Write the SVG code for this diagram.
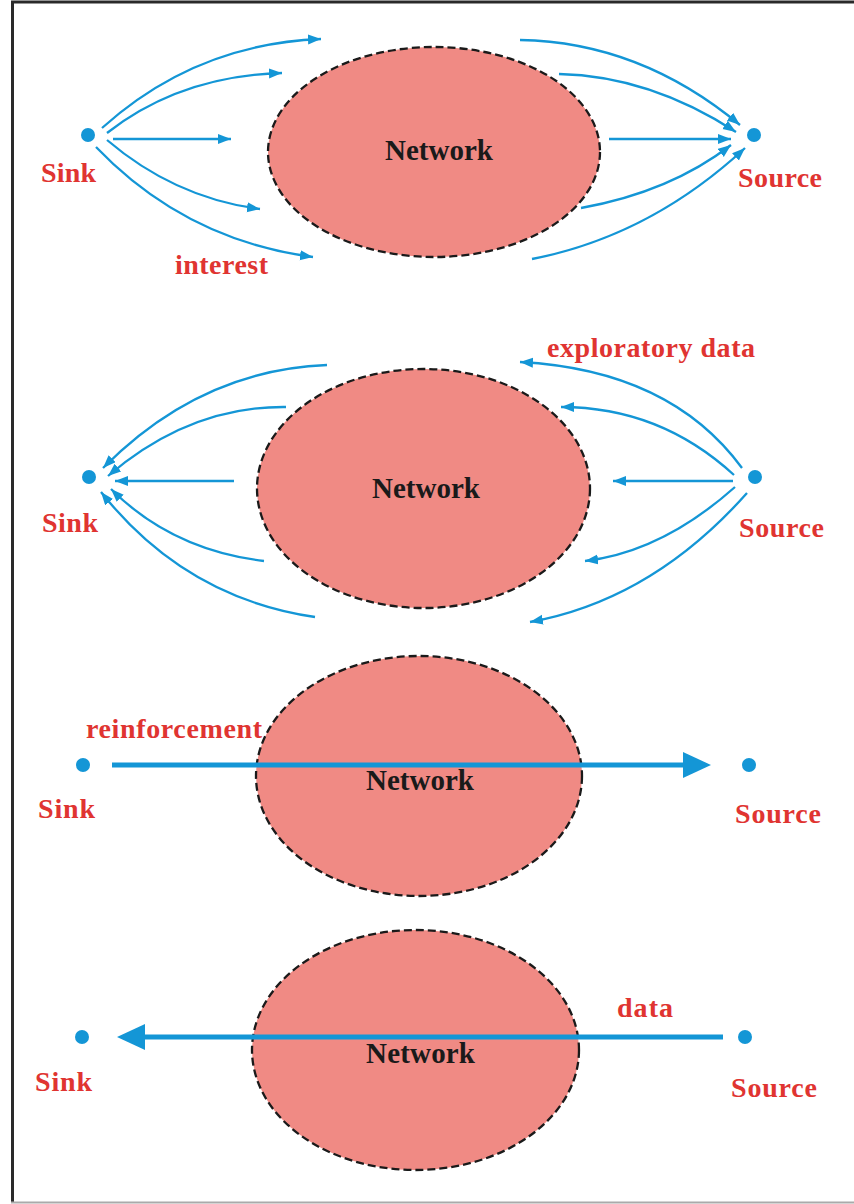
<svg xmlns="http://www.w3.org/2000/svg" width="854" height="1204" viewBox="0 0 854 1204">
<defs>
<style>
.net{fill:#f08a84;stroke:#1a1a1a;stroke-width:2.3;stroke-dasharray:8 4}
.lbl{font-family:"Liberation Serif","Times New Roman",serif;font-weight:bold;font-size:28px;fill:#e03431}
.nt{font-family:"Liberation Serif","Times New Roman",serif;font-weight:bold;font-size:29px;fill:#1a1a1a}
.dot{fill:#1496d6}
.thin{fill:none;stroke:#1496d6;stroke-width:2.3;marker-end:url(#ah)}
.thick{fill:none;stroke:#1496d6;stroke-width:5;marker-end:url(#ahb)}
</style>
<marker id="ah" markerUnits="userSpaceOnUse" markerWidth="14" markerHeight="12" refX="13" refY="5" orient="auto">
<path d="M0,0 L13,5 L0,10 z" fill="#1496d6"/>
</marker>
<marker id="ahb" markerUnits="userSpaceOnUse" markerWidth="30" markerHeight="28" refX="15" refY="13" orient="auto">
<path d="M0,0 L28,13 L0,26 z" fill="#1496d6"/>
</marker>
</defs>
<rect width="854" height="1204" fill="#ffffff"/>
<g id="frame" fill="none">
<line x1="11" y1="2" x2="854" y2="2" stroke="#2a2a2a" stroke-width="3"/>
<line x1="12.5" y1="1" x2="12.5" y2="1203" stroke="#2a2a2a" stroke-width="3"/>
<line x1="11" y1="1202.5" x2="854" y2="1202.5" stroke="#aaaaaa" stroke-width="2"/>
</g>

<g id="panel1-network"><ellipse class="net" cx="434" cy="152" rx="166" ry="105"/><text class="nt" x="385" y="160" textLength="108">Network</text></g>
<g id="panel1-sink"><circle class="dot" cx="88" cy="135" r="7"/><text class="lbl" x="41" y="182" textLength="55">Sink</text></g>
<g id="panel1-source"><circle class="dot" cx="754" cy="135" r="7"/><text class="lbl" x="738" y="187" textLength="84">Source</text></g>
<g id="panel1-label"><text class="lbl" x="175" y="274" textLength="93">interest</text></g>

<g id="panel2-network"><ellipse class="net" cx="423.5" cy="488.5" rx="166.5" ry="119.5"/><text class="nt" x="372" y="498" textLength="108">Network</text></g>
<g id="panel2-sink"><circle class="dot" cx="89" cy="477" r="7"/><text class="lbl" x="42" y="532" textLength="56">Sink</text></g>
<g id="panel2-source"><circle class="dot" cx="755" cy="477" r="7"/><text class="lbl" x="739" y="537" textLength="85">Source</text></g>
<g id="panel2-label"><text class="lbl" x="547" y="357" textLength="208">exploratory data</text></g>

<g id="panel3-network"><ellipse class="net" cx="419" cy="776" rx="163" ry="120"/><text class="nt" x="366" y="790" textLength="108">Network</text></g>
<g id="panel3-sink"><circle class="dot" cx="83" cy="765" r="7"/><text class="lbl" x="38" y="818" textLength="57">Sink</text></g>
<g id="panel3-source"><circle class="dot" cx="749" cy="765" r="7"/><text class="lbl" x="735" y="823" textLength="86">Source</text></g>
<g id="panel3-label"><text class="lbl" x="86" y="738" textLength="176">reinforcement</text></g>

<g id="panel4-network"><ellipse class="net" cx="415.5" cy="1050" rx="163.5" ry="120"/><text class="nt" x="366" y="1063" textLength="109">Network</text></g>
<g id="panel4-sink"><circle class="dot" cx="82" cy="1037" r="7"/><text class="lbl" x="35" y="1091" textLength="57">Sink</text></g>
<g id="panel4-source"><circle class="dot" cx="745" cy="1037" r="7"/><text class="lbl" x="731" y="1097" textLength="86">Source</text></g>
<g id="panel4-label"><text class="lbl" x="617" y="1017" textLength="56">data</text></g>

<g id="connectors">
<path class="thin" d="M102,128 Q195,44 321,39"/>
<path class="thin" d="M107,133 Q180,76 282,73"/>
<path class="thin" d="M113,139 L231,139"/>
<path class="thin" d="M107,140 Q175,198 260,209"/>
<path class="thin" d="M96,147 Q185,240 313,257"/>
<path class="thin" d="M520,40 Q640,42 740,125"/>
<path class="thin" d="M559,74 Q650,76 736,132"/>
<path class="thin" d="M609,139 L731,139"/>
<path class="thin" d="M581,208 Q670,192 731,145"/>
<path class="thin" d="M532,259 Q650,236 745,148"/>

<path class="thin" d="M327,365 Q200,370 103,468"/>
<path class="thin" d="M286,407 Q190,406 108,476"/>
<path class="thin" d="M234,481 L115,481"/>
<path class="thin" d="M264,561 Q172,550 111,489"/>
<path class="thin" d="M315,617 Q185,598 101,492"/>
<path class="thin" d="M742,468 Q670,370 520,362"/>
<path class="thin" d="M734,475 Q660,407 561,407"/>
<path class="thin" d="M733,481 L613,481"/>
<path class="thin" d="M735,487 Q662,552 585,561"/>
<path class="thin" d="M747,493 Q652,600 530,622"/>

<path class="thick" d="M112,765 L698,765"/>
<path class="thick" d="M723,1037 L130,1037"/>
</g>
</svg>
